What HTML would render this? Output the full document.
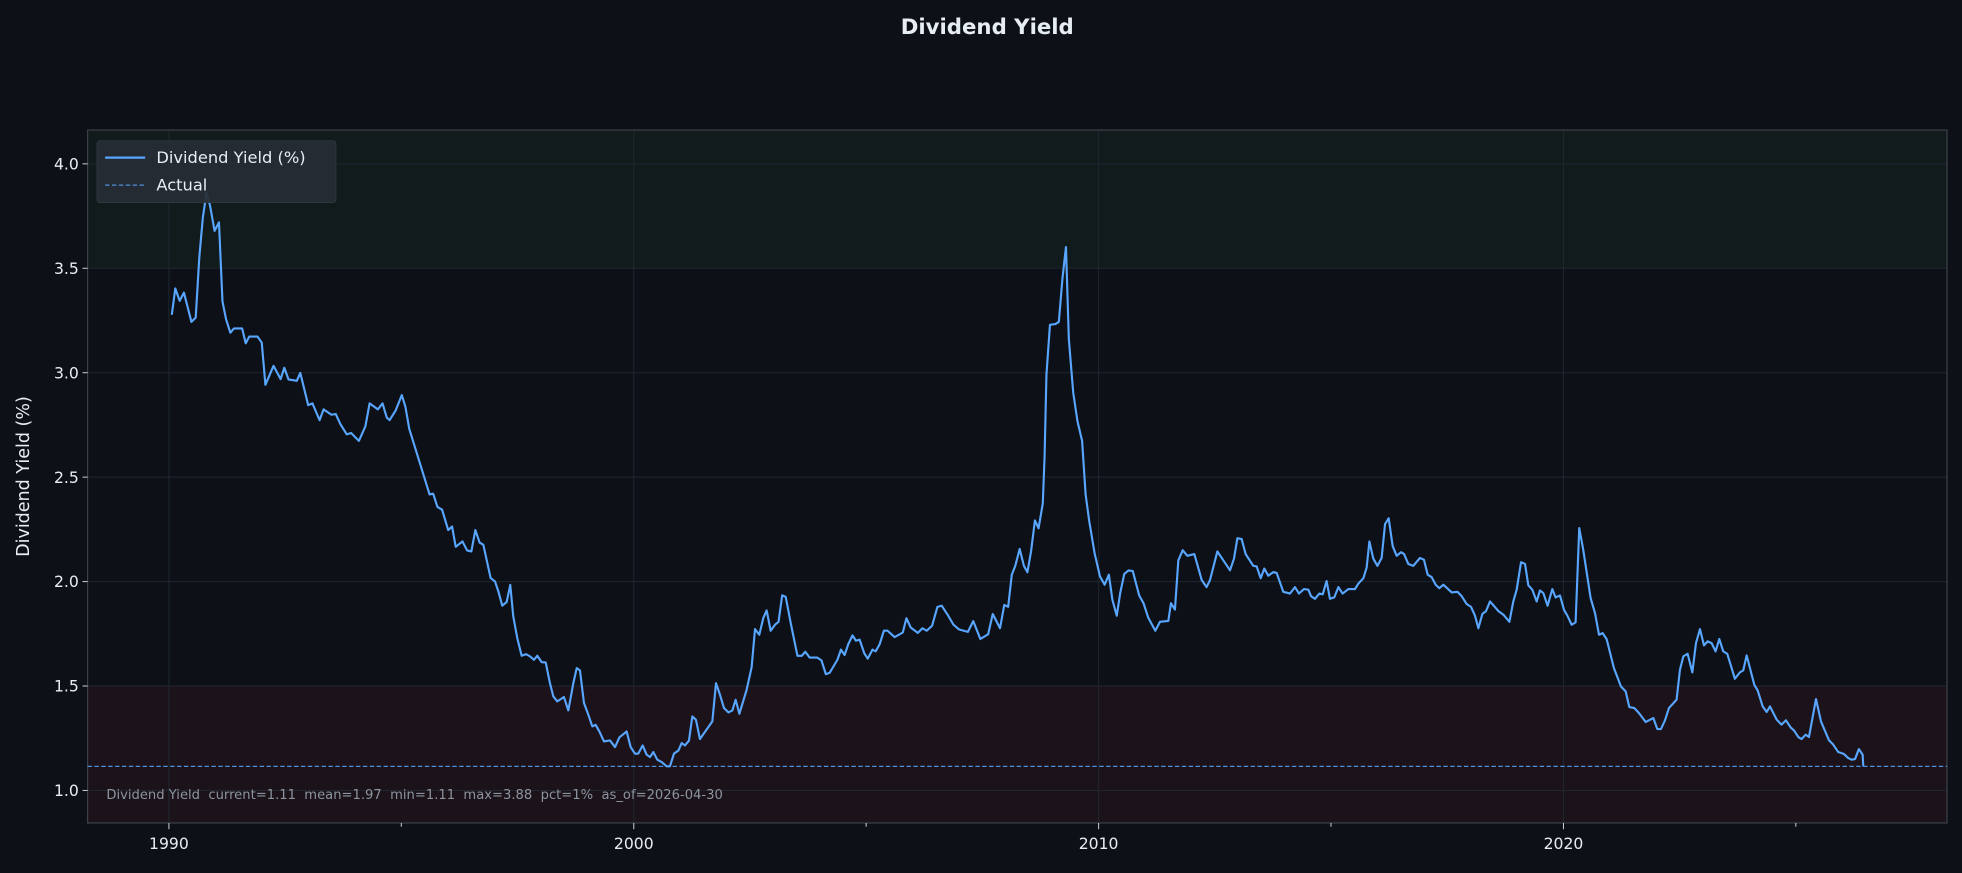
<!DOCTYPE html>
<html><head><meta charset="utf-8"><style>
html,body{margin:0;padding:0;background:#0d1117;}
svg{display:block;font-family:"Liberation Sans","DejaVu Sans",sans-serif;}
</style></head><body>
<svg width="1962" height="873" viewBox="0 0 1568 698" preserveAspectRatio="none" xmlns="http://www.w3.org/2000/svg">
<rect x="0" y="0" width="1568" height="698" fill="#0d1117"/>
<text x="789" y="27" text-anchor="middle" font-size="17" font-weight="bold" fill="#e6edf3" font-family="DejaVu Sans, sans-serif">Dividend Yield</text>
<rect x="70" y="104" width="1486" height="110.5" fill="#111b1c"/>
<rect x="70" y="548" width="1486" height="110" fill="#1c131a"/>
<g stroke="#1f2630" stroke-width="0.8">
<line x1="70" x2="1556" y1="632" y2="632"/><line x1="70" x2="1556" y1="548.5" y2="548.5"/>
<line x1="70" x2="1556" y1="465" y2="465"/><line x1="70" x2="1556" y1="381.5" y2="381.5"/>
<line x1="70" x2="1556" y1="298" y2="298"/><line x1="70" x2="1556" y1="214.5" y2="214.5"/>
<line x1="70" x2="1556" y1="131" y2="131"/>
<line x1="135" x2="135" y1="104" y2="658"/><line x1="506.5" x2="506.5" y1="104" y2="658"/>
<line x1="878" x2="878" y1="104" y2="658"/><line x1="1249.5" x2="1249.5" y1="104" y2="658"/>
</g>
<rect x="70" y="104" width="1486" height="554" fill="none" stroke="#3a4048" stroke-width="1"/>
<g stroke="#c9d1d9" stroke-width="0.8">
<line x1="66" x2="70" y1="632" y2="632"/><line x1="66" x2="70" y1="548.5" y2="548.5"/><line x1="66" x2="70" y1="465" y2="465"/><line x1="66" x2="70" y1="381.5" y2="381.5"/><line x1="66" x2="70" y1="298" y2="298"/><line x1="66" x2="70" y1="214.5" y2="214.5"/><line x1="66" x2="70" y1="131" y2="131"/>
<line x1="135" x2="135" y1="658" y2="663"/><line x1="506.5" x2="506.5" y1="658" y2="663"/><line x1="878" x2="878" y1="658" y2="663"/><line x1="1249.5" x2="1249.5" y1="658" y2="663"/>
<line x1="320.7" x2="320.7" y1="658" y2="661"/><line x1="692.2" x2="692.2" y1="658" y2="661"/><line x1="1063.7" x2="1063.7" y1="658" y2="661"/><line x1="1435.2" x2="1435.2" y1="658" y2="661"/>
</g>
<g font-size="12.5" fill="#e6edf3" font-family="DejaVu Sans, sans-serif">
<g text-anchor="end">
<text x="63" y="636.5">1.0</text><text x="63" y="553">1.5</text><text x="63" y="469.5">2.0</text><text x="63" y="386">2.5</text><text x="63" y="302.5">3.0</text><text x="63" y="219">3.5</text><text x="63" y="135.5">4.0</text>
</g>
<g text-anchor="middle">
<text x="135" y="679">1990</text><text x="506.5" y="679">2000</text><text x="878" y="679">2010</text><text x="1249.5" y="679">2020</text>
</g>
<text transform="translate(23,381) rotate(-90)" text-anchor="middle" font-size="14">Dividend Yield (%)</text>
</g>
<line x1="70" x2="1556" y1="612.7" y2="612.7" stroke="#4f8fd9" stroke-width="1" stroke-dasharray="3.5,2"/>
<polyline fill="none" stroke="#58a6ff" stroke-width="1.7" stroke-linejoin="round" points="
137.3,251.7 140.1,230.6 143.6,240.6 147,234 153,257.4 156.4,254 159.3,205.5 162.1,174.1 165,154.1 167.8,164.1 171.5,184.6 175,177.8 177.8,241.1 180.7,255.4 184.1,266 187,262.6 193.5,262.6 196.4,274.5 199.2,269.1 205.8,269.1 209.2,274 212.1,307.7 218.6,292.5 224.3,303.1 227.2,294 230.6,303.4 237.2,304.5 240,298.2 246.3,323.9 249.7,322.5 255.4,335.9 258.6,327.3 264.9,331.6 268.3,331 272,339.1 277.1,347.3 280.6,346.2 286.8,352.5 292,341 295.4,322.5 302,327.3 305.7,322.5 309.1,333.9 311.4,335.9 316.2,328.2 321.1,315.9 324,325.3 327.1,343 343.3,395.3 346.2,394.7 349.6,405.3 353.3,407.5 358.2,423.8 361.3,421 364.2,437.2 369.6,432.9 373.3,440.1 376.7,440.9 379.9,423.8 383.3,433.8 386.3,435.6 388.9,447.6 392.1,462.2 395.6,464.9 398.3,472.9 401.4,484.3 404.9,481.4 407.8,467.6 410.2,492.9 413.4,510.2 416.9,524.3 420.4,523 423.6,524.8 426.8,527.5 429.4,524.3 432.9,529.4 436.1,529.6 439.5,546.2 442.2,556.8 445.4,560.8 450.7,557.3 454.2,568 458.2,546.2 460.9,534.2 463.5,536 466.7,562.1 470.2,571.5 473.4,580.8 476,579.5 479,584.8 482.7,592.8 487.5,592 491.5,597.3 495,589.6 500.8,584.8 504,597.3 507.5,602.6 510.1,602.6 513.6,596 516.8,603.4 519.5,605.3 522.1,601.3 525.3,607.4 528.8,609.3 532.8,612.7 535.4,612.7 538.6,602.6 542.1,600.2 544.8,594.1 547.4,596 550.6,592.2 553.3,572.8 556.2,575.5 559.4,590.9 569.3,576.8 572.2,546.2 575.4,555.5 578.6,566.1 582.1,569.6 585.3,568 587.9,559.5 590.9,570.7 596.7,551.5 600.7,533.4 603.4,503 606.8,507.5 610,494.2 612.7,488.1 615.9,504.3 619.4,499.5 622.2,497.2 625.1,476 627.9,477.2 632.2,499.5 637.3,524.3 640.8,524.3 643.6,521.1 647,525.7 653,525.7 656.5,528 660,539 663,538 666,533 669.3,527.4 672.1,519.4 675,523.7 677.9,515.1 681.3,508 684.1,512.3 687,511.4 690.7,522.3 693.5,526.6 697.3,519.4 699.8,520.8 703,515.1 706.4,504.3 709.3,504.3 715,509.4 721.5,505.7 724.4,494.3 727.8,501.7 733.5,506 737.2,502.3 740.6,504.3 744.9,500.3 749.2,485.2 752.6,484.3 757.8,492.3 762,499.5 766.3,503.2 773.5,505.2 777.8,496.6 783.5,510.9 789.7,507.1 793.4,490.9 799.2,502.3 802.6,483.7 805.7,485.2 808.6,459.5 811.4,452.4 814.9,438.9 818.3,452.4 821.1,457.5 824,440.9 827.1,416.1 830,422.4 833.4,402.4 834.8,365.3 836.3,299.7 839.1,259.7 843.4,259.1 846.2,257.4 849.1,222.6 851.9,197.5 854.2,271.1 857.7,313.9 861.1,336.8 864.8,352.5 867.6,395.3 870.5,416.7 874.8,442.4 879.1,460.9 882.8,467.5 886.2,459.5 889,479.5 892.5,492.3 895.3,473.8 898.5,458.9 901.9,456.1 905.3,456.6 910.4,476 913.9,482.3 917.6,493.7 923.3,504.3 927,497.2 933.7,496.5 935.8,482.3 939,487.4 941.7,448.1 945.2,439.9 948.9,444.4 954.5,443 960.4,463.8 964.3,469.4 967,463.8 972.9,440.9 983,456 986.2,446.6 988.9,430.3 992.3,431 995.5,443 1001.6,452.4 1004.3,452.9 1007.5,462.3 1010.4,454.6 1013.6,460.3 1017.6,457.4 1020.3,458.1 1025.6,473.2 1030.9,474.6 1034.9,469.4 1038.1,474.6 1042.1,471 1045.6,471.5 1047.7,476.6 1050.9,478.8 1054.4,474.6 1057.1,475.2 1060.2,464.6 1062.9,478.8 1066.4,477.5 1069.6,469.4 1073,474.6 1077.6,471 1082.9,471 1085.6,466.6 1089.6,462.3 1092.2,453.8 1094.4,432.9 1097.5,446.6 1100.8,452.4 1104.2,446 1106.9,419 1109.8,414.4 1113,436.6 1116.2,444.4 1119.7,441.5 1122.1,443 1125.5,450.9 1129.5,452.4 1134.8,446.1 1138,447.5 1141,459.5 1144.2,461.5 1147.4,467.5 1150.3,470.3 1153.5,467.5 1160.2,473.7 1164.9,473.2 1168.1,476.6 1172.1,482.9 1175.6,485.2 1178.8,492.3 1181.5,502.3 1184.7,490.8 1187.6,488.6 1190.8,480.9 1197.5,488.6 1201.4,491.4 1206.3,497.2 1209.4,480.9 1212.1,471.5 1215.6,449.5 1218.8,450.9 1221.4,468 1224.6,471.5 1228.1,480.9 1230.7,472.1 1233.4,474.2 1236.8,484.3 1240.6,471 1243.2,477.7 1246.7,476.1 1249.9,487.5 1252.5,492 1256,499.5 1259.2,497.6 1262.1,422.2 1265.3,439.6 1271.2,478.2 1274.7,490.2 1277.9,507.5 1280.8,506.2 1284,511 1289.8,534.1 1295.4,548.8 1299.2,552.8 1302.1,565.3 1306.1,566.1 1309.8,570.1 1315.2,577.3 1321.3,574.1 1324.5,582.9 1327.4,582.9 1330.6,576 1333.8,566.1 1339.9,559.4 1342.6,535.5 1345.3,524.8 1348.7,522.7 1352.5,537.6 1355.4,514.2 1358.6,503 1361.8,516 1364.7,512.8 1367.9,514.2 1371.1,520.8 1374,510.9 1377.2,520.8 1380.4,522.7 1386.5,542.7 1390.5,537.6 1393.2,536 1395.9,524 1402,547.5 1404.7,552 1408.7,564.8 1411.9,569.3 1414.5,564.8 1419.9,575.4 1423.8,579.4 1427.3,575.9 1431,581.5 1433.9,584.2 1437.2,589.3 1439.8,590.9 1443,587.4 1445.7,589.3 1451.3,558.9 1455.3,576.8 1461.7,591.9 1465.1,595.4 1469.1,601.3 1473.7,602.9 1477.1,606.1 1479.8,607.4 1482.5,606.9 1485.6,598.9 1488.6,603.4 1489.1,612.7"/>
<rect x="77.5" y="112.5" width="191" height="49.5" rx="2.5" fill="#262d35" fill-opacity="0.92" stroke="#333a42" stroke-width="0.6"/>
<line x1="84" x2="116" y1="126" y2="126" stroke="#58a6ff" stroke-width="1.8"/>
<line x1="84" x2="116" y1="148" y2="148" stroke="#4f8fd9" stroke-width="1" stroke-dasharray="3.5,2"/>
<g font-size="13" fill="#e6edf3" font-family="DejaVu Sans, sans-serif">
<text x="125" y="130.5">Dividend Yield (%)</text>
<text x="125" y="152.5">Actual</text>
</g>
<text x="85" y="639" font-size="10.5" fill="#8b949e" font-family="DejaVu Sans, sans-serif" xml:space="preserve">Dividend Yield  current=1.11  mean=1.97  min=1.11  max=3.88  pct=1%  as_of=2026-04-30</text>
</svg>
</body></html>
